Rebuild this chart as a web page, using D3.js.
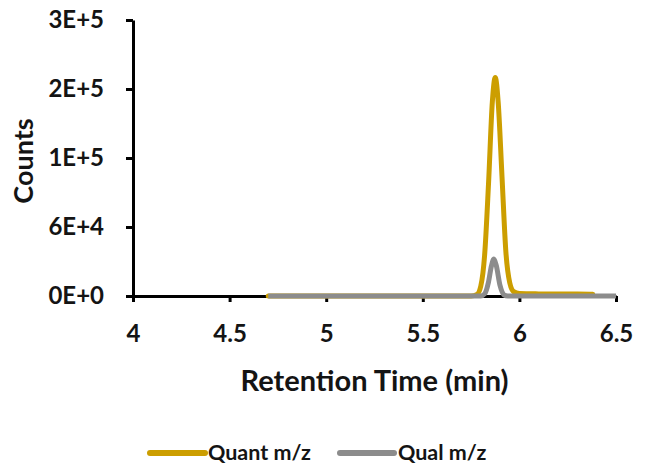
<!DOCTYPE html>
<html>
<head>
<meta charset="utf-8">
<script src="https://cdn.jsdelivr.net/npm/d3@7"></script>
<style>
  html, body { margin: 0; padding: 0; background: #fff; }
  svg text { font-family: Lato, "Open Sans", sans-serif; font-weight: 700; fill: #141414; }
</style>
</head>
<body>
<svg id="chart" width="651" height="469"></svg>
<script>
// ---- data ----
const quantTime  = [4.70, 5.00, 5.50, 5.75, 5.78, 5.80, 5.82, 5.84, 5.86, 5.875, 5.89, 5.91, 5.93, 5.95, 5.97, 6.00, 6.10, 6.20, 6.30, 6.38];
const quantCount = [0,    0,    0,    0,    1300, 8800, 37000, 101000, 176000, 198000, 176000, 108000, 40000, 12000, 4000, 2200, 1900, 1800, 1700, 1600];
const qualTime   = [4.70, 5.00, 5.50, 5.78, 5.80, 5.82, 5.84, 5.855, 5.868, 5.88, 5.90, 5.92, 5.94, 6.00, 6.20, 6.50];
const qualCount  = [0,    0,    0,    0,    0,    1900, 12600, 27000, 33500, 27900, 9300, 1100, 0,   0,    0,    0];
const xTicks = [4, 4.5, 5, 5.5, 6, 6.5];
const xTickLabels = ["4", "4.5", "5", "5.5", "6", "6.5"];
const yTicks = [0, 62500, 125000, 187500, 250000];
const yTickLabels = ["0E+0", "6E+4", "1E+5", "2E+5", "3E+5"];
const seriesNames = ["Quant m/z", "Qual m/z"];
const seriesColors = ["#CC9E00", "#8C8C8C"];

// ---- layout ----
const svg = d3.select("#chart");
const mLeft = 133, mRight = 616, mTop = 20, mBottom = 296;
const x = d3.scaleLinear().domain([4, 6.5]).range([mLeft, mRight]);
const y = d3.scaleLinear().domain([0, 250000]).range([mBottom, mTop]);

const line = d3.line().x(d => x(d[0])).y(d => y(d[1])).curve(d3.curveMonotoneX);

// axes
const xAxis = d3.axisBottom(x).tickValues(xTicks).tickFormat((d, i) => xTickLabels[i]).tickSizeOuter(0).tickSizeInner(6).tickPadding(23);
const yAxis = d3.axisLeft(y).tickValues(yTicks).tickFormat((d, i) => yTickLabels[i]).tickSizeOuter(0).tickSizeInner(7).tickPadding(22);

const gx = svg.append("g").attr("transform", `translate(0,${mBottom})`).call(xAxis);
const gy = svg.append("g").attr("transform", `translate(${mLeft},0)`).call(yAxis);
[gx, gy].forEach(g => {
  g.selectAll("path.domain").attr("stroke", "#000").attr("stroke-width", 3);
  g.selectAll(".tick line").attr("stroke", "#000").attr("stroke-width", 3);
  g.selectAll(".tick text").style("font-size", "24px").style("font-family", "Lato, sans-serif").style("font-weight", 700).attr("fill", "#141414");
});

// series (qual drawn on top)
const quantData = quantTime.map((t, i) => [t, quantCount[i]]);
const qualData = qualTime.map((t, i) => [t, qualCount[i]]);
svg.append("path").datum(quantData).attr("d", line).attr("fill", "none")
  .attr("stroke", seriesColors[0]).attr("stroke-width", 5).attr("stroke-linejoin", "round").attr("stroke-linecap", "round");
svg.append("path").datum(qualData).attr("d", line).attr("fill", "none")
  .attr("stroke", seriesColors[1]).attr("stroke-width", 5).attr("stroke-linejoin", "round").attr("stroke-linecap", "butt");

// axis titles
svg.append("text").attr("x", (mLeft + mRight) / 2).attr("y", 391).attr("text-anchor", "middle")
  .style("font-size", "29px").text("Retention Time (min)");
svg.append("text").attr("transform", `translate(33,${(mTop + mBottom) / 2 + 3}) rotate(-90)`).attr("text-anchor", "middle")
  .style("font-size", "27px").text("Counts");

// legend
const legendItems = [
  { name: seriesNames[0], color: seriesColors[0], x1: 150, x2: 205, tx: 208 },
  { name: seriesNames[1], color: seriesColors[1], x1: 340, x2: 394, tx: 398 }
];
const lg = svg.append("g");
legendItems.forEach(it => {
  lg.append("line").attr("x1", it.x1).attr("x2", it.x2).attr("y1", 453).attr("y2", 453)
    .attr("stroke", it.color).attr("stroke-width", 6).attr("stroke-linecap", "round");
  lg.append("text").attr("x", it.tx).attr("y", 460).style("font-size", "21.5px").text(it.name);
});
</script>
</body>
</html>
